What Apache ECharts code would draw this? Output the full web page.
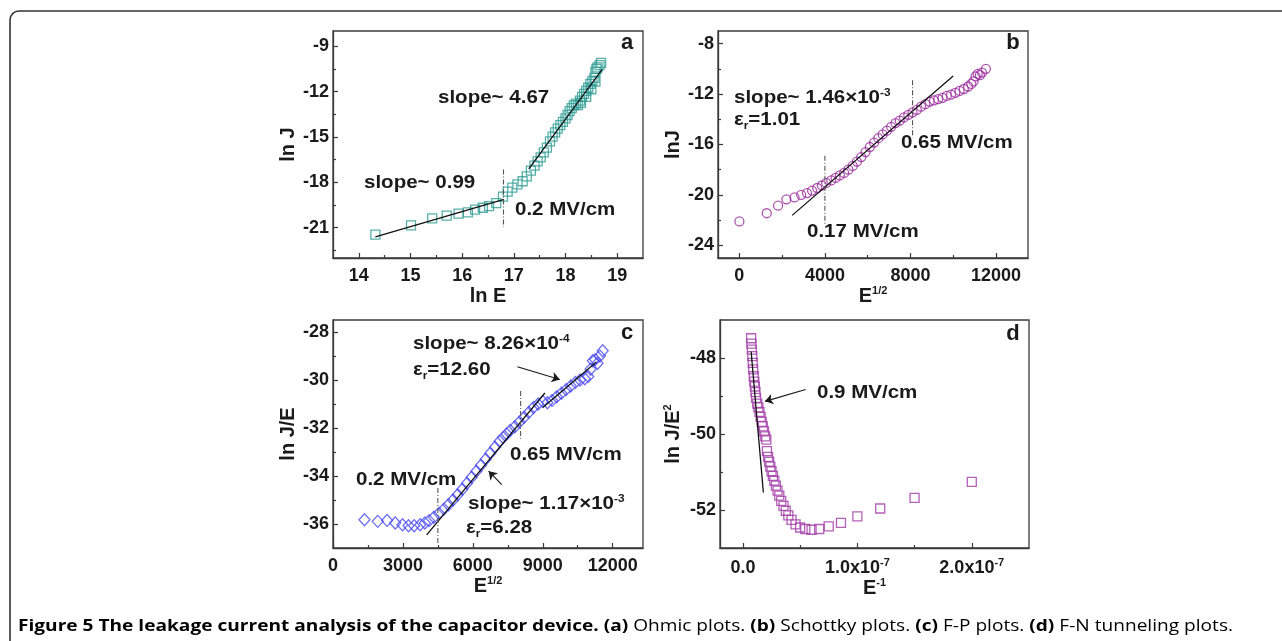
<!DOCTYPE html>
<html><head><meta charset="utf-8">
<script src="https://cdn.jsdelivr.net/npm/echarts@6/dist/echarts.min.js"></script>
<style>html,body{margin:0;padding:0;background:#fff}#c{width:1282px;height:641px}</style>
</head><body><div id="c"></div>
<script>
// ---------- Panel a : Ohmic (ln J vs ln E) ----------
const aPoints = [[14.32,-21.46],[15.01,-20.84],[15.42,-20.38],[15.70,-20.20],[15.93,-20.07],[16.11,-19.99],[16.25,-19.81],[16.40,-19.68],[16.52,-19.57],[16.66,-19.37],[16.79,-18.95],[16.88,-18.62],[16.97,-18.35],[17.07,-18.14],[17.17,-17.93],[17.25,-17.60],[17.33,-17.22],[17.40,-16.90],[17.46,-16.62],[17.52,-16.35],[17.58,-16.02],[17.64,-15.70],[17.70,-15.30],[17.75,-14.98],[17.80,-14.70],[17.85,-14.45],[17.90,-14.22],[17.95,-14.00],[18.00,-13.78],[18.04,-13.55],[18.08,-13.30],[18.12,-13.10],[18.16,-12.92],[18.20,-12.80],[18.24,-12.90],[18.28,-12.60],[18.30,-12.75],[18.32,-12.35],[18.36,-12.15],[18.40,-11.95],[18.40,-12.35],[18.44,-11.75],[18.48,-11.50],[18.50,-11.85],[18.52,-11.30],[18.56,-11.10],[18.58,-11.35],[18.58,-10.70],[18.60,-10.50],[18.62,-10.40],[18.66,-10.25],[18.69,-10.10]];
const aFitLow = [[14.32,-21.6],[16.81,-19.13]];
const aFitHigh = [[17.29,-17.11],[18.71,-10.54]];
const aBoundary = [[16.8,-17.16],[16.8,-20.95]];
const aXRange = [13.5,19.5], aYRange = [-23,-8];
const aXTicks = [14,15,16,17,18,19], aXMinor = [14.5,15.5,16.5,17.5,18.5];
const aYTicks = [-21,-18,-15,-12,-9], aYMinor = [-22.5,-19.5,-16.5,-13.5,-10.5];

// ---------- Panel b : Schottky (ln J vs E^1/2) ----------
const bPoints = [[0,-22.1],[1280,-21.45],[1810,-20.85],[2200,-20.35],[2580,-20.2],[2890,-20.0],[3160,-19.85],[3400,-19.65],[3640,-19.45],[3860,-19.25],[4060,-19.05],[4300,-18.85],[4500,-18.65],[4700,-18.45],[4900,-18.25],[5100,-18.0],[5300,-17.7],[5500,-17.35],[5700,-17.0],[5900,-16.6],[6100,-16.2],[6300,-15.85],[6500,-15.5],[6700,-15.2],[6900,-14.9],[7100,-14.6],[7300,-14.3],[7500,-14.1],[7700,-13.85],[7900,-13.65],[8100,-13.45],[8300,-13.25],[8500,-13.0],[8700,-12.8],[8900,-12.6],[9100,-12.5],[9300,-12.4],[9500,-12.3],[9700,-12.15],[9900,-12.05],[10100,-11.9],[10300,-11.75],[10500,-11.6],[10700,-11.4],[10850,-11.2],[10950,-11.0],[11050,-10.6],[11150,-10.4],[11250,-10.5],[11350,-10.3],[11530,-10.0]];
const bFit = [[2470,-21.62],[10000,-10.57]];
const bBoundary1 = [[4000,-16.9],[4000,-22.4]];
const bBoundary2 = [[8100,-10.9],[8100,-15.45]];
const bXRange = [-1000,13500], bYRange = [-25,-7];
const bXTicks = [0,4000,8000,12000], bXMinor = [2000,6000,10000];
const bYTicks = [-24,-20,-16,-12,-8], bYMinor = [-22,-18,-14,-10];

// ---------- Panel c : Frenkel-Poole (ln J/E vs E^1/2) ----------
const cPoints = [[1350,-35.82],[1920,-35.89],[2320,-35.85],[2670,-35.96],[2980,-36.03],[3240,-36.07],[3480,-36.07],[3740,-36.03],[3940,-35.96],[4120,-35.86],[4330,-35.72],[4550,-35.55],[4760,-35.38],[4950,-35.2],[5150,-35.0],[5350,-34.78],[5550,-34.55],[5750,-34.3],[5950,-34.05],[6150,-33.8],[6350,-33.55],[6550,-33.3],[6750,-33.05],[6950,-32.8],[7150,-32.55],[7300,-32.4],[7450,-32.25],[7600,-32.1],[7800,-31.95],[8000,-31.75],[8200,-31.55],[8400,-31.35],[8600,-31.15],[8800,-31.0],[9000,-30.9],[9200,-30.95],[9400,-30.85],[9600,-30.7],[9800,-30.55],[10000,-30.4],[10200,-30.25],[10400,-30.1],[10600,-30.0],[10800,-29.95],[10950,-29.85],[11050,-29.55],[11150,-29.2],[11250,-29.15],[11350,-29.3],[11450,-29.0],[11570,-28.78]];
const cFit1 = [[4020,-36.45],[9090,-30.54]];
const cFit2 = [[9000,-31.15],[11300,-29.25]];
const cBoundary1 = [[4500,-34.5],[4500,-36.8]];
const cBoundary2 = [[8050,-30.46],[8050,-32.45]];
const cArrow1 = [[7910,-29.45],[9730,-29.98]];
const cArrow2 = [[7240,-34.36],[6680,-33.8]];
const cXRange = [0,13300], cYRange = [-37,-27.5];
const cXTicks = [0,3000,6000,9000,12000], cXMinor = [1500,4500,7500,10500];
const cYTicks = [-36,-34,-32,-30,-28], cYMinor = [-35,-33,-31,-29];

// ---------- Panel d : Fowler-Nordheim (ln J/E^2 vs E^-1) ----------
const dPoints = [[0.72e-8,-47.48],[0.75e-8,-47.62],[0.78e-8,-47.78],[0.82e-8,-47.95],[0.86e-8,-48.13],[0.9e-8,-48.3],[0.95e-8,-48.48],[1.0e-8,-48.62],[1.05e-8,-48.75],[1.1e-8,-48.9],[1.15e-8,-49.05],[1.25e-8,-49.2],[1.35e-8,-49.3],[1.45e-8,-49.42],[1.55e-8,-49.55],[1.65e-8,-49.68],[1.75e-8,-49.8],[1.85e-8,-49.93],[1.95e-8,-50.06],[2.05e-8,-50.15],[2.1e-8,-50.45],[2.2e-8,-50.6],[2.3e-8,-50.73],[2.4e-8,-50.86],[2.5e-8,-50.98],[2.62e-8,-51.1],[2.75e-8,-51.23],[2.88e-8,-51.36],[3.03e-8,-51.49],[3.18e-8,-51.62],[3.35e-8,-51.76],[3.55e-8,-51.89],[3.75e-8,-52.02],[3.97e-8,-52.14],[4.25e-8,-52.26],[4.6e-8,-52.38],[5.0e-8,-52.46],[5.45e-8,-52.5],[6.0e-8,-52.52],[6.67e-8,-52.5],[7.5e-8,-52.43],[8.57e-8,-52.34],[1.0e-7,-52.17],[1.2e-7,-51.96],[1.5e-7,-51.68],[2.0e-7,-51.26]];
const dFit = [[0.72e-8,-47.83],[1.79e-8,-51.54]];
const dArrow = [[5.48e-8,-48.83],[1.93e-8,-49.14]];
const dXRange = [-2e-8,2.5e-7], dYRange = [-53,-47];
const dXTicks = [0,1e-7,2e-7], dXMinor = [0.5e-7,1.5e-7];
const dYTicks = [-52,-50,-48], dYMinor = [-51,-49];

// ---------- styling ----------
const FONT = '"Liberation Sans", Arial, sans-serif';
const AX = '#3a3a3a', TXT = '#1a1a1a';
const SUP = {fontSize: 11, fontWeight: 'bold', fontFamily: FONT, color: TXT, verticalAlign: 'top', lineHeight: 22};
const NM = {fontSize: 20, fontWeight: 'bold', fontFamily: FONT, color: TXT, lineHeight: 22};

const grids = [
  {left: 333, top: 31, width: 310, height: 227},
  {left: 718, top: 31, width: 310, height: 227},
  {left: 333, top: 320, width: 310, height: 228},
  {left: 720, top: 320, width: 309, height: 228}
].map(g => Object.assign(g, {show: true, borderColor: AX, borderWidth: 1.3, backgroundColor: 'transparent', containLabel: false}));

function axisPair(dim, gi, range, majors, minors, name, nameGap, fmt) {
  const major = {
    type: 'value', gridIndex: gi, min: range[0], max: range[1],
    position: dim === 'x' ? 'bottom' : 'left',
    splitLine: {show: false},
    axisLine: {show: true, onZero: false, lineStyle: {color: AX, width: 1.3}},
    axisTick: {show: true, inside: true, length: 5, customValues: majors, lineStyle: {color: AX, width: 1.2}},
    axisLabel: {show: true, customValues: majors, margin: dim === 'x' ? 9 : 4,
      fontSize: 18, fontWeight: 'bold', fontFamily: FONT, color: TXT,
      formatter: fmt || (v => String(v)),
      rich: {n: {fontSize: 18, fontWeight: 'bold', fontFamily: FONT, color: TXT, lineHeight: 22}, s: SUP}},
    name: name, nameLocation: 'middle', nameGap: nameGap,
    nameTextStyle: Object.assign({}, NM, {rich: {n: NM, s: SUP}})
  };
  const minor = {
    type: 'value', gridIndex: gi, min: range[0], max: range[1],
    position: dim === 'x' ? 'bottom' : 'left',
    splitLine: {show: false},
    axisLine: {show: false, onZero: false},
    axisTick: {show: true, inside: true, length: 3, customValues: minors, lineStyle: {color: AX, width: 1.2}},
    axisLabel: {show: false}
  };
  return [major, minor];
}

const dFmt = v => v === 0 ? '{n|0.0}' : '{n|' + (v / 1e-7).toFixed(1) + 'x10}{s|-7}';

const xAxes = [].concat(
  axisPair('x', 0, aXRange, aXTicks, aXMinor, '{n|ln E}', 21),
  axisPair('x', 1, bXRange, bXTicks, bXMinor, '{n|E}{s|1/2}', 20),
  axisPair('x', 2, cXRange, cXTicks, cXMinor, '{n|E}{s|1/2}', 20),
  axisPair('x', 3, dXRange, dXTicks, dXMinor, '{n|E}{s|-1}', 20, dFmt)
);
const yAxes = [].concat(
  axisPair('y', 0, aYRange, aYTicks, aYMinor, '{n|ln J}', 32),
  axisPair('y', 1, bYRange, bYTicks, bYMinor, '{n|lnJ}', 34),
  axisPair('y', 2, cYRange, cYTicks, cYMinor, '{n|ln J/E}', 26),
  axisPair('y', 3, dYRange, dYTicks, dYMinor, '{n|ln J/E}{s|2}', 36)
);

function scatter(gi, data, symbol, size, color) {
  return {type: 'scatter', xAxisIndex: 2 * gi, yAxisIndex: 2 * gi, data: data, symbol: symbol, symbolSize: size,
    itemStyle: {color: 'rgba(0,0,0,0)', borderColor: color, borderWidth: 1.3}, silent: true, z: 3};
}
function line(gi, data, dashed) {
  return {type: 'line', xAxisIndex: 2 * gi, yAxisIndex: 2 * gi, data: data, showSymbol: false, symbol: 'none', silent: true, z: 4,
    lineStyle: dashed ? {color: '#555', width: 1.1, type: [5, 2, 1, 2]} : {color: '#111', width: 1.3}};
}
function arrow(gi, data) {
  return {type: 'lines', coordinateSystem: 'cartesian2d', xAxisIndex: 2 * gi, yAxisIndex: 2 * gi, silent: true, z: 5,
    symbol: ['none', 'arrow'], symbolSize: 8,
    lineStyle: {color: '#1a1a1a', width: 1.2, opacity: 1},
    data: [{coords: data}]};
}

const series = [
  scatter(0, aPoints, 'rect', 9, '#2e9c94'),
  line(0, aFitLow), line(0, aFitHigh), line(0, aBoundary, true),
  scatter(1, bPoints, 'circle', 9, '#9a2c9c'),
  line(1, bFit), line(1, bBoundary1, true), line(1, bBoundary2, true),
  scatter(2, cPoints, 'diamond', [11, 12], '#4848f0'),
  line(2, cFit1), line(2, cFit2), line(2, cBoundary1, true), line(2, cBoundary2, true),
  arrow(2, cArrow1), arrow(2, cArrow2),
  scatter(3, dPoints, 'rect', 9, '#a03aa6'),
  line(3, dFit), arrow(3, dArrow)
];

// ---------- annotation texts ----------
const annRich = {
  n: {fontSize: 19, fontWeight: 'bold', fontFamily: FONT, color: TXT, lineHeight: 22},
  s: {fontSize: 11, fontWeight: 'bold', fontFamily: FONT, color: TXT, verticalAlign: 'top', lineHeight: 22},
  u: {fontSize: 11, fontWeight: 'bold', fontFamily: FONT, color: TXT, verticalAlign: 'bottom', lineHeight: 22}
};
const annotations = [
  ['{n|slope~ 4.67}', 438, 98], ['{n|slope~ 0.99}', 364, 183], ['{n|0.2 MV/cm}', 515, 210],
  ['{n|slope~ 1.46×10}{s|-3}', 734, 98], ['{n|ε}{u|r}{n|=1.01}', 734, 120], ['{n|0.65 MV/cm}', 901, 143], ['{n|0.17 MV/cm}', 807, 232],
  ['{n|slope~ 8.26×10}{s|-4}', 413, 344], ['{n|ε}{u|r}{n|=12.60}', 413, 370], ['{n|0.65 MV/cm}', 510, 455], ['{n|0.2 MV/cm}', 356, 480],
  ['{n|slope~ 1.17×10}{s|-3}', 468, 504], ['{n|ε}{u|r}{n|=6.28}', 466, 528],
  ['{n|0.9 MV/cm}', 817, 393]
];
const letters = [['a', 627, 43], ['b', 1013, 43], ['c', 627, 333], ['d', 1013, 334]];

const graphics = [
  {type: 'rect', shape: {x: 10, y: 11, width: 1320, height: 700, r: 9}, style: {fill: 'none', stroke: '#333', lineWidth: 1.6}, silent: true}
];
annotations.forEach(a => graphics.push({type: 'text', x: a[1], y: a[2], scaleX: 1.08, originX: 0, originY: 0, silent: true,
  style: {text: a[0], rich: annRich, textAlign: 'left', textVerticalAlign: 'middle', fontSize: 19, fontWeight: 'bold', fontFamily: FONT, fill: TXT}}));
letters.forEach(l => graphics.push({type: 'text', x: l[1], y: l[2], silent: true,
  style: {text: l[0], textAlign: 'center', textVerticalAlign: 'middle', fontSize: 22, fontWeight: 'bold', fontFamily: FONT, fill: TXT}}));

// caption
const CAP_FONT = '"Open Sans", "Noto Sans", sans-serif';
const capParts = [
  ['b', 'Figure 5 The leakage current analysis of the capacitor device. (a)'], ['r', ' Ohmic plots. '],
  ['b', '(b)'], ['r', ' Schottky plots. '], ['b', '(c)'], ['r', ' F-P plots. '], ['b', '(d)'], ['r', ' F-N tunneling plots.']
];
const CAP_SIZE = 15.5;
const ctx = document.createElement('canvas').getContext('2d');
let capW = 0;
capParts.forEach(p => { ctx.font = (p[0] === 'b' ? 'bold ' : '') + CAP_SIZE + 'px ' + CAP_FONT; capW += ctx.measureText(p[1]).width; });
const capScale = 1215 / capW;
graphics.push({type: 'text', x: 18, y: 627, scaleX: capScale, originX: 0, originY: 0, silent: true,
  style: {text: capParts.map(p => '{' + p[0] + '|' + p[1] + '}').join(''), textAlign: 'left', textVerticalAlign: 'middle',
    rich: {b: {fontSize: CAP_SIZE, fontWeight: 'bold', fontFamily: CAP_FONT, color: '#222'},
           r: {fontSize: CAP_SIZE, fontWeight: 'normal', fontFamily: CAP_FONT, color: '#222'}}}});

const chart = echarts.init(document.getElementById('c'), null, {renderer: 'canvas'});
chart.setOption({
  animation: false,
  backgroundColor: '#fff',
  grid: grids,
  xAxis: xAxes,
  yAxis: yAxes,
  series: series,
  graphic: graphics
});
</script></body></html>
